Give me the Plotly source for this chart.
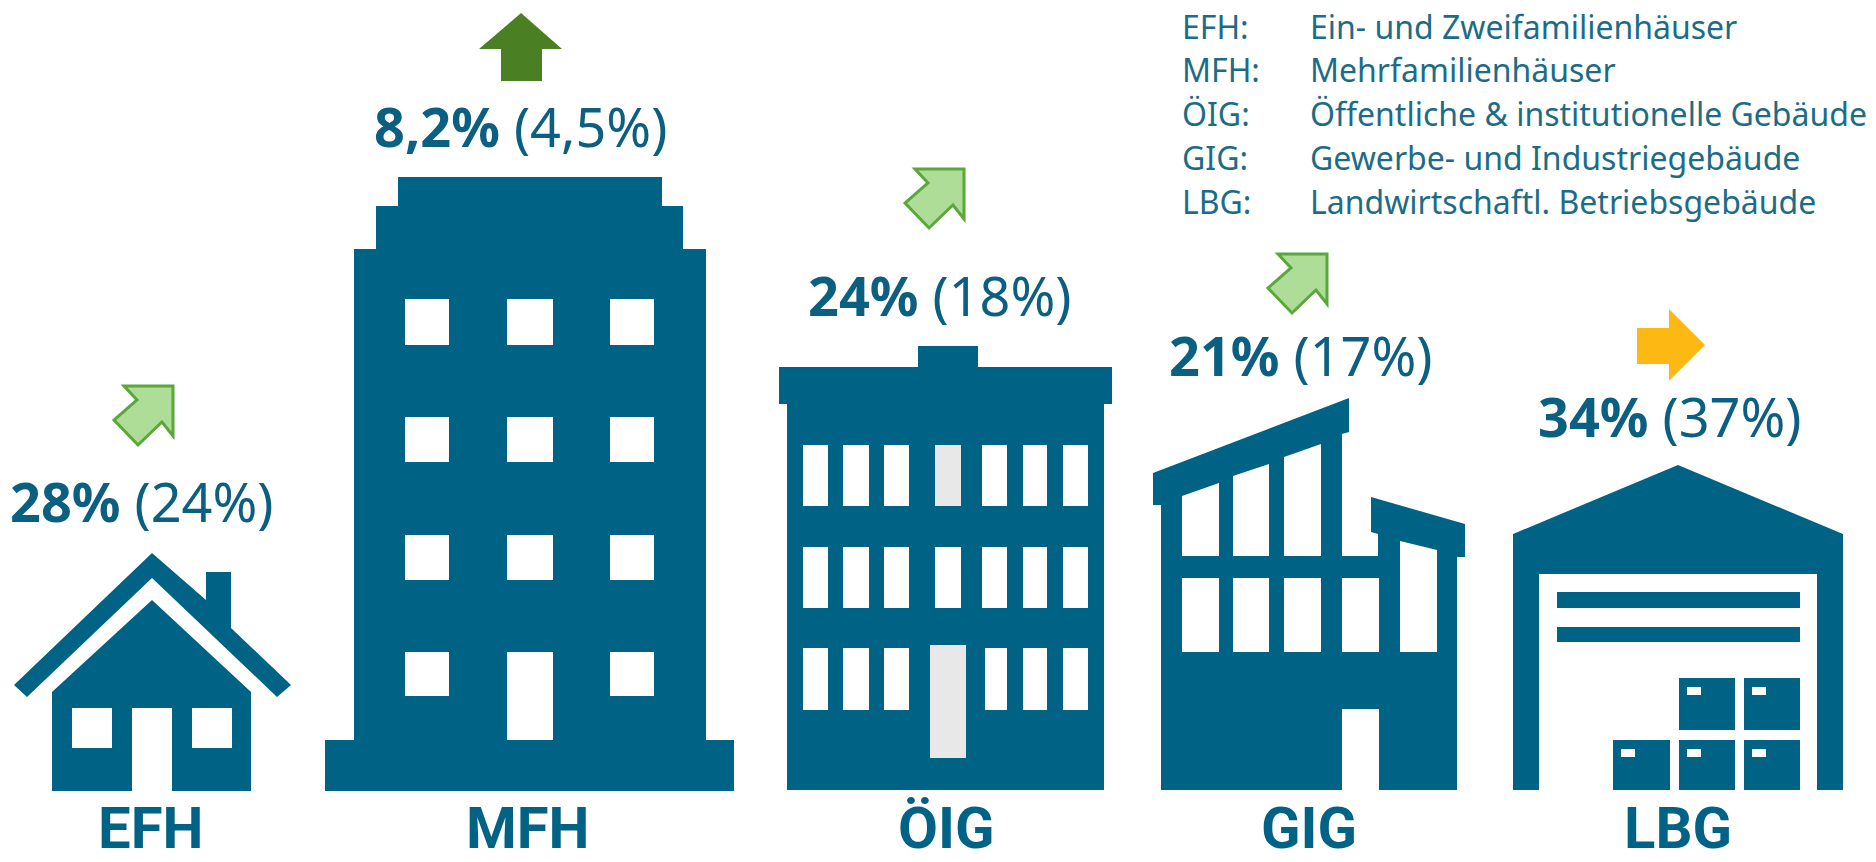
import plotly.graph_objects as go

# ---- data ----
codes = ["EFH", "MFH", "ÖIG", "GIG", "LBG"]
current = [28, 8.2, 24, 21, 34]
previous = [24, 4.5, 18, 17, 37]
legend_codes = ["EFH:", "MFH:", "ÖIG:", "GIG:", "LBG:"]
legend_names = ["Ein- und Zweifamilienhäuser", "Mehrfamilienhäuser",
                "Öffentliche & institutionelle Gebäude",
                "Gewerbe- und Industriegebäude", "Landwirtschaftl. Betriebsgebäude"]

BLUE = "#006285"
TXT = "#0b5f80"
LEG = "#1d6c86"
WHITE = "#ffffff"
GREY = "#e8e8e8"
FONT = "Noto Sans"
W, H = 1876, 862

shapes = []


def poly(pts, fill=BLUE, line=None, lw=0):
    d = "M " + " L ".join(f"{x},{y}" for x, y in pts) + " Z"
    shapes.append(dict(type="path", path=d, xref="x", yref="y", fillcolor=fill,
                       line=dict(color=line or fill, width=lw), layer="above"))


def rect(x0, y0, x1, y1, fill=BLUE):
    poly([(x0, y0), (x1, y0), (x1, y1), (x0, y1)], fill)


# EFH house
poly([(14, 685), (152, 553), (206, 600), (206, 572), (231, 572), (231, 628),
      (291, 685), (277, 697), (152, 578), (27, 697)])
poly([(152, 600), (251, 692), (251, 791), (52, 791), (52, 692)])
rect(72, 708, 112, 748, WHITE)
rect(192, 708, 232, 748, WHITE)
rect(132, 708, 172, 791, WHITE)

# MFH tower
poly([(398, 177), (662, 177), (662, 206), (683, 206), (683, 249), (706, 249),
      (706, 740), (734, 740), (734, 791), (325, 791), (325, 740), (354, 740),
      (354, 249), (376, 249), (376, 206), (398, 206)])
for y0, y1 in [(299, 345), (417, 462), (535, 580), (652, 696)]:
    for x0, x1 in [(405, 449), (507, 553), (610, 654)]:
        rect(x0, y0, x1, y1, WHITE)
rect(507, 652, 553, 740, WHITE)

# ÖIG block
poly([(918, 346), (978, 346), (978, 367), (1112, 367), (1112, 404), (1104, 404),
      (1104, 790), (787, 790), (787, 404), (779, 404), (779, 367), (918, 367)])
cols = [(803, 828), (843, 869), (884, 909), (935, 961), (982, 1007), (1023, 1047), (1063, 1088)]
for ri, (y0, y1) in enumerate([(445, 506), (547, 608), (648, 710)]):
    for ci, (x0, x1) in enumerate(cols):
        if ri == 2 and ci == 3:
            rect(930, 645, 966, 758, GREY)
        elif ri == 2 and ci == 4:
            rect(985, y0, x1, y1, WHITE)
        else:
            rect(x0, y0, x1, y1, GREY if (ri == 0 and ci == 3) else WHITE)

# GIG hall
poly([(1153, 473), (1349, 398), (1349, 432), (1342, 434), (1342, 556), (1378, 556),
      (1378, 534), (1371, 532), (1371, 497), (1465, 524), (1465, 557), (1457, 557),
      (1457, 790), (1379, 790), (1379, 709), (1342, 709), (1342, 790), (1161, 790),
      (1161, 505), (1153, 505)])
for x0, x1, ya, yb in [(1182, 1219, 496, 483), (1233, 1269, 476, 464), (1284, 1321, 457, 444)]:
    poly([(x0, ya), (x1, yb), (x1, 556), (x0, 556)], WHITE)
for x0, x1 in [(1182, 1219), (1233, 1269), (1284, 1321), (1342, 1379)]:
    rect(x0, 578, x1, 652, WHITE)
poly([(1400, 541), (1437, 550), (1437, 652), (1400, 652)], WHITE)

# LBG warehouse
poly([(1678, 465), (1843, 534), (1843, 790), (1817, 790), (1817, 574), (1539, 574),
      (1539, 790), (1513, 790), (1513, 534)])
rect(1557, 592, 1800, 608)
rect(1557, 627, 1800, 642)
for x0, x1, y0, y1 in [(1679, 1735, 678, 730), (1744, 1800, 678, 730),
                       (1613, 1670, 740, 790), (1679, 1735, 740, 790), (1744, 1800, 740, 790)]:
    rect(x0, y0, x1, y1)
    rect(x0 + 8, y0 + 9, x0 + 22, y0 + 17, WHITE)


# trend arrows
def diag_arrow(x, y):
    pts = [(59, 0), (59, 50), (48, 36), (24, 59), (0, 34), (23, 14), (10, 0)]
    poly([(x + px, y + py) for px, py in pts], "#aedd98", "#5aa83c", 3)


diag_arrow(114, 386)
diag_arrow(905, 169)
diag_arrow(1268, 254)
poly([(521, 13), (562, 49), (542, 49), (542, 81), (501, 81), (501, 49), (479, 49)], "#4a7f24")
poly([(1637, 328), (1669, 328), (1669, 309), (1705, 345), (1669, 381), (1669, 364), (1637, 364)], "#fdb813")

annotations = []


def text(x, y, s, size, color=TXT, anchor="center", ya="bottom", family=FONT, **kw):
    annotations.append(dict(x=x, y=y, text=s, showarrow=False, xref="x", yref="y",
                            xanchor=anchor, yanchor=ya, align="left",
                            font=dict(family=family, size=size, color=color), **kw))


def fmt(v):
    return f"{v}".replace(".", ",") + "%"


centers = [142, 520, 940, 1301, 1670]
baselines = [523, 148, 317, 377, 438]
for c, b, cur, prev in zip(centers, baselines, current, previous):
    text(c, b + 17, f"<b>{fmt(cur)}</b> ({fmt(prev)})", 54)

name_x = [150, 528, 946, 1309, 1678]
for n, x in zip(codes, name_x):
    text(x, 793, f"<b>{n}</b>", 58, BLUE, ya="top", family="Roboto", borderpad=0)

for i, (a, b) in enumerate(zip(legend_codes, legend_names)):
    y = [40, 83, 127, 171, 215][i] + 10
    text(1180, y, a, 32, LEG, "left")
    text(1308, y, b, 32, LEG, "left")

fig = go.Figure()
fig.update_layout(width=W, height=H, margin=dict(l=0, r=0, t=0, b=0),
                  paper_bgcolor="white", plot_bgcolor="white", showlegend=False,
                  xaxis=dict(range=[0, W], visible=False, fixedrange=True),
                  yaxis=dict(range=[H, 0], visible=False, fixedrange=True),
                  shapes=shapes, annotations=annotations)
fig.write_html("out.html", config={"displayModeBar": False},
               post_script="document.body.style.margin='0';document.body.style.overflow='hidden';")
